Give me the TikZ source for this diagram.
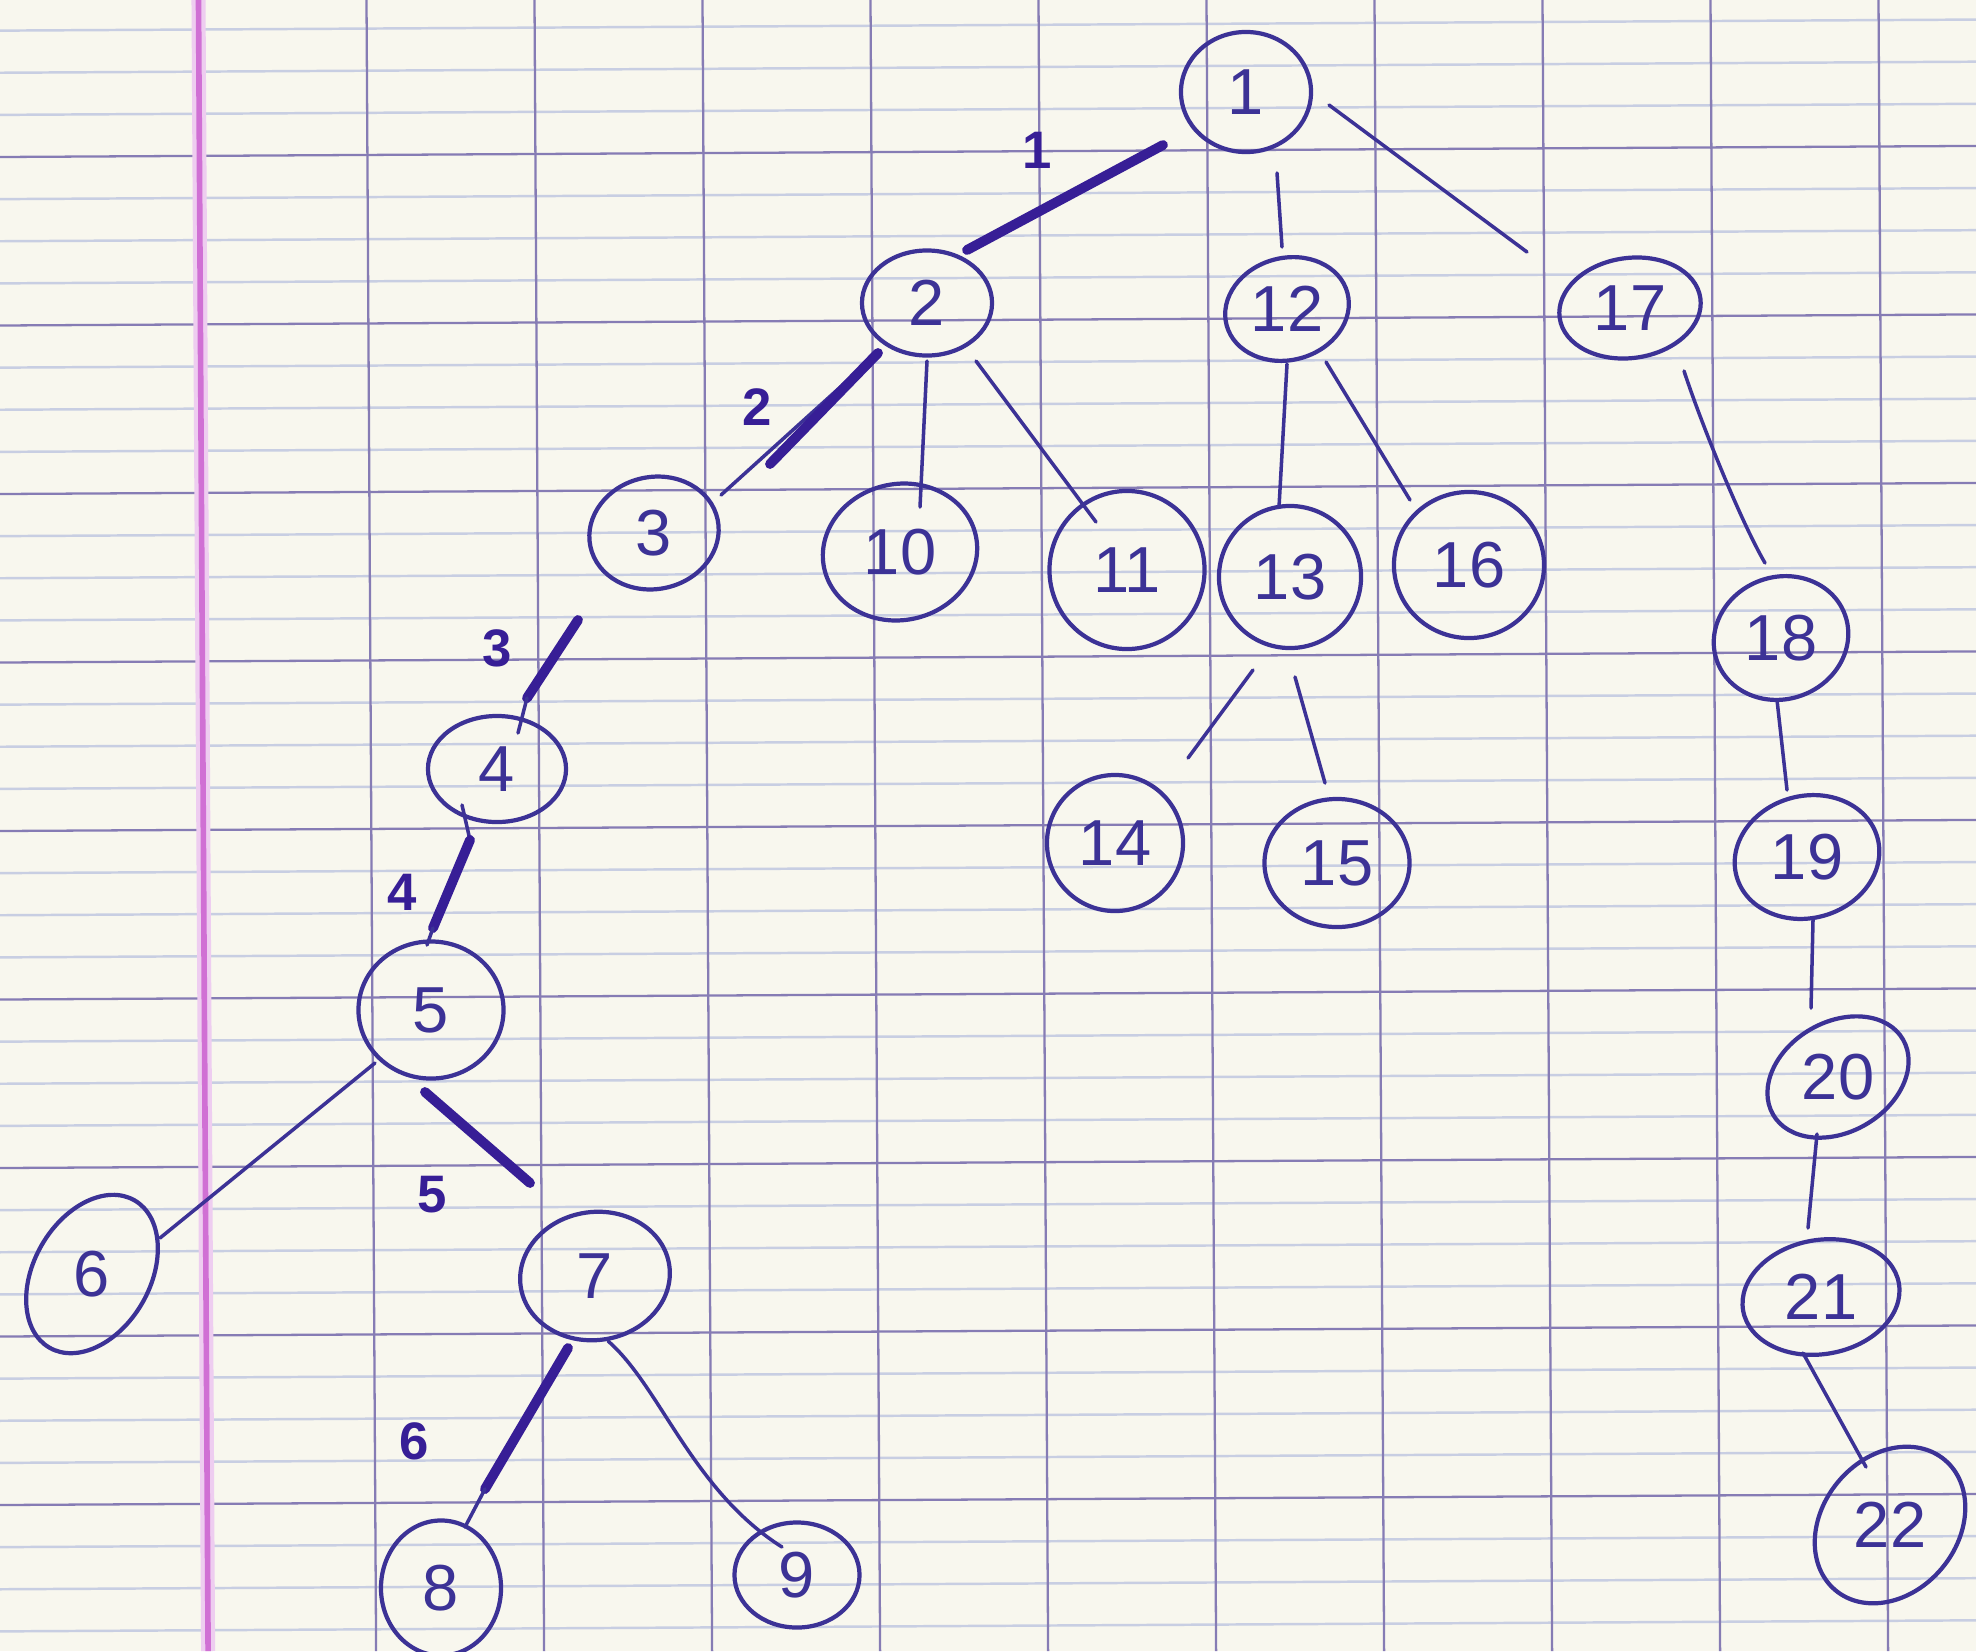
\documentclass[tikz,border=0pt]{standalone}
\usepackage{fontspec}
\setmainfont{Liberation Sans}
\usetikzlibrary{shapes.geometric,calc}

\definecolor{paper}{RGB}{248,247,238}
\definecolor{rulemajor}{RGB}{134,124,180}
\definecolor{ruleminor}{RGB}{200,206,226}
\definecolor{marginpink}{RGB}{208,112,212}
\definecolor{ink}{RGB}{60,50,150}
\definecolor{inkdark}{RGB}{55,30,150}

\tikzset{
  vertex/.style={ellipse, draw=ink, line width=1.2pt, inner sep=0pt,
    text=ink, font=\fontsize{18.5}{20}\selectfont},
  link/.style={draw=ink, line width=1.0pt, line cap=round},
  boldlink/.style={draw=inkdark, line width=2.8pt, line cap=round},
  steplabel/.style={text=inkdark, inner sep=0pt,
    font=\fontsize{15}{16}\selectfont\bfseries},
  minorrule/.style={draw=ruleminor, line width=0.7pt},
  majorrule/.style={draw=rulemajor, line width=0.65pt},
}

\begin{document}
\begin{tikzpicture}[x=0.01cm,y=-0.01cm]
\useasboundingbox (0,0) rectangle (1976,1651);
\fill[paper] (0,0) rectangle (1976,1651);

% Seyes ruling: three fine lines between the heavy ones
\foreach \m in {-3,...,35}{
  \pgfmathtruncatemacro\rr{mod(\m+400,4)}
  \ifnum\rr=0\else
    \draw[minorrule] (0,{157+42.125*\m}) -- (1976,{157+42.125*\m-11.07});
  \fi
}
\foreach \j in {0,...,8}
  \draw[majorrule] (0,{157+168.5*\j}) -- (1976,{157+168.5*\j-11.07});
\foreach \k in {0,...,9}
  \draw[majorrule] ({366.5+168*\k},0) -- ({376.1+168*\k},1651);
% margin line
\draw[marginpink!35, line width=4pt] (198.5,0) -- (208.1,1651);
\draw[marginpink, line width=1.6pt] (198.5,0) -- (208.1,1651);

% tree vertices
\node[vertex, minimum width=1.30cm, minimum height=1.20cm] (n1) at (1246,92) {1};
\node[vertex, minimum width=1.30cm, minimum height=1.05cm] (n2) at (927,303) {2};
\node[vertex, minimum width=1.25cm, minimum height=1.02cm, rotate=15] (n12) at (1287,309) {\rotatebox{-15}{12}};
\node[vertex, minimum width=1.42cm, minimum height=1.00cm, rotate=8] (n17) at (1630,308) {\rotatebox{-8}{17}};
\node[vertex, minimum width=1.30cm, minimum height=1.12cm, rotate=12] (n3) at (654,533) {\rotatebox{-12}{3}};
\node[vertex, minimum width=1.55cm, minimum height=1.36cm, rotate=12] (n10) at (900,552) {\rotatebox{-12}{10}};
\node[vertex, minimum width=1.55cm, minimum height=1.58cm] (n11) at (1127,570) {11};
\node[vertex, minimum width=1.42cm, minimum height=1.42cm] (n13) at (1290,577) {13};
\node[vertex, minimum width=1.50cm, minimum height=1.46cm] (n16) at (1469,565) {16};
\node[vertex, minimum width=1.36cm, minimum height=1.22cm, rotate=20] (n18) at (1781,638) {\rotatebox{-20}{18}};
\node[vertex, minimum width=1.38cm, minimum height=1.06cm] (n4) at (497,769) {4};
\node[vertex, minimum width=1.36cm, minimum height=1.36cm] (n14) at (1115,843) {14};
\node[vertex, minimum width=1.45cm, minimum height=1.28cm] (n15) at (1337,863) {15};
\node[vertex, minimum width=1.46cm, minimum height=1.22cm, rotate=15] (n19) at (1807,857) {\rotatebox{-15}{19}};
\node[vertex, minimum width=1.45cm, minimum height=1.37cm] (n5) at (431,1010) {5};
\node[vertex, minimum width=1.50cm, minimum height=1.10cm, rotate=30] (n20) at (1838,1077) {\rotatebox{-30}{20}};
\node[vertex, minimum width=1.16cm, minimum height=1.70cm, rotate=-30] (n6) at (92,1274) {\rotatebox{30}{6}};
\node[vertex, minimum width=1.50cm, minimum height=1.28cm, rotate=8] (n7) at (595,1276) {\rotatebox{-8}{7}};
\node[vertex, minimum width=1.58cm, minimum height=1.14cm, rotate=10] (n21) at (1821,1297) {\rotatebox{-10}{21}};
\node[vertex, minimum width=1.20cm, minimum height=1.35cm] (n8) at (441,1588) {8};
\node[vertex, minimum width=1.25cm, minimum height=1.05cm] (n9) at (797,1575) {9};
\node[vertex, minimum width=1.35cm, minimum height=1.70cm, rotate=-40] (n22) at (1890,1525) {\rotatebox{40}{22}};

% connectors
\draw[boldlink] ($(n1.center)+(-83,53)$) -- ($(n2.center)+(40,-53)$);
\draw[link] ($(n1.center)+(31,81)$) -- ($(n12.center)+(-5,-62)$);
\draw[link] ($(n1.center)+(83,13)$) -- ($(n17.center)+(-103,-56)$);

\draw[link] ($(n2.center)+(-49,50)$) -- ($(n3.center)+(67,-38)$);
\draw[boldlink] ($(n2.center)+(-49,50)$) -- ($(n3.center)+(116,-69)$);
\draw[link] ($(n2.center)+(0,58)$) -- ($(n10.center)+(20,-45)$);
\draw[link] ($(n2.center)+(49,58)$) -- ($(n11.center)+(-31,-48)$);

\draw[boldlink] ($(n3.center)+(-76,87)$) -- ($(n4.center)+(30,-71)$);
\draw[link] ($(n4.center)+(30,-71)$) -- ($(n4.center)+(21,-36)$);

\draw[link] ($(n4.center)+(-35,36)$) -- ($(n4.center)+(-27,71)$);
\draw[boldlink] ($(n4.center)+(-27,71)$) -- ($(n5.center)+(2,-82)$);
\draw[link] ($(n5.center)+(2,-82)$) -- ($(n5.center)+(-4,-65)$);

\draw[link] ($(n5.center)+(-56,53)$) -- ($(n6.center)+(68,-36)$);
\draw[boldlink] ($(n5.center)+(-6,82)$) -- ($(n7.center)+(-65,-93)$);

\draw[boldlink] ($(n7.center)+(-27,72)$) -- ($(n8.center)+(44,-99)$);
\draw[link] ($(n8.center)+(44,-99)$) -- ($(n8.center)+(24,-61)$);
\draw[link] ($(n7.center)+(13,65)$) .. controls ($(n7.center)+(65,110)$)
  and ($(n9.center)+(-105,-85)$) .. ($(n9.center)+(-15,-28)$);

\draw[link] ($(n12.center)+(0,55)$) -- ($(n13.center)+(-11,-70)$);
\draw[link] ($(n12.center)+(39,53)$) -- ($(n16.center)+(-59,-65)$);
\draw[link] ($(n13.center)+(-37,93)$) -- ($(n14.center)+(73,-85)$);
\draw[link] ($(n13.center)+(5,100)$) -- ($(n15.center)+(-12,-80)$);

\draw[link] ($(n17.center)+(54,63)$) .. controls ($(n17.center)+(70,112)$)
  and ($(n18.center)+(-41,-118)$) .. ($(n18.center)+(-16,-75)$);
\draw[link] ($(n18.center)+(-4,62)$) -- ($(n19.center)+(-20,-67)$);
\draw[link] ($(n19.center)+(6,63)$) -- ($(n20.center)+(-27,-69)$);
\draw[link] ($(n20.center)+(-21,57)$) -- ($(n21.center)+(-13,-69)$);
\draw[link] ($(n21.center)+(-18,56)$) -- ($(n22.center)+(-24,-58)$);

% order of the traversal
\node[steplabel] (s1) at (1037,150) {1};
\node[steplabel] (s2) at (757,407) {2};
\node[steplabel] (s3) at (497,648) {3};
\node[steplabel] (s4) at (402,892) {4};
\node[steplabel] (s5) at (432,1195) {5};
\node[steplabel] (s6) at (414,1441) {6};
\end{tikzpicture}
\end{document}
